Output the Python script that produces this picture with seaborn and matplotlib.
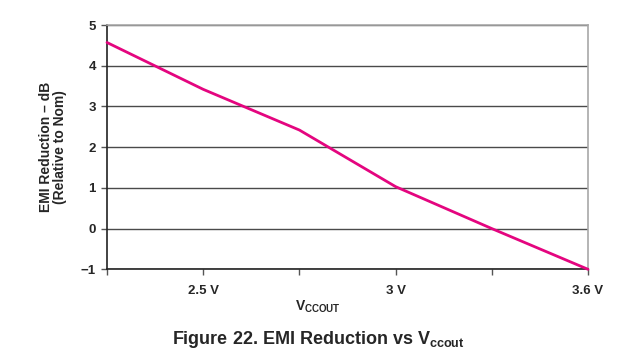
import numpy as np
import pandas as pd
import matplotlib
matplotlib.use("Agg")
import matplotlib.pyplot as plt
import seaborn as sns

# =========================
# Setup
# =========================
sns.set_theme(style="white")
plt.rcParams["font.family"] = ["Liberation Sans", "DejaVu Sans"]
plt.rcParams["font.weight"] = "bold"
plt.rcParams["mathtext.fontset"] = "custom"
plt.rcParams["mathtext.rm"] = "Liberation Sans:bold"
plt.rcParams["mathtext.it"] = "Liberation Sans:bold"
plt.rcParams["mathtext.bf"] = "Liberation Sans:bold"

# =========================
# Data
# =========================
vcc_out = [2.25, 2.5, 2.75, 3.0, 3.3, 3.6]
emi_reduction = [4.57, 3.42, 2.42, 1.03, 0.0, -1.0]
x_tick_labels = ["", "2.5 V", "", "3 V", "", "3.6 V"]
y_ticks = [-1, 0, 1, 2, 3, 4, 5]

df = pd.DataFrame({"pos": np.arange(len(vcc_out)), "emi": emi_reduction})

# =========================
# Figure
# =========================
fig = plt.figure(figsize=(6.36, 3.62), dpi=100)
ax = fig.add_axes([107 / 636, 1 - 269.3 / 362, (588 - 107) / 636, (269.3 - 25) / 362])

sns.lineplot(data=df, x="pos", y="emi", ax=ax, color="#E4057F",
             linewidth=2.0, clip_on=False, zorder=3)

ax.set_xlim(0, len(vcc_out) - 1)
ax.set_ylim(-1, 5)
ax.set_xticks(df["pos"])
ax.set_xticklabels(x_tick_labels)
ax.set_yticks(y_ticks)
ax.set_yticklabels([str(v).replace("-", "\u2212") for v in y_ticks])

ax.tick_params(axis="both", which="major", direction="out", length=4,
               width=1, color="#555555", labelsize=9.5, pad=4,
               bottom=True, left=True)
ax.tick_params(axis="x", pad=7)
for lbl in ax.get_xticklabels() + ax.get_yticklabels():
    lbl.set_fontweight("bold")

# Horizontal grid only
ax.yaxis.grid(True, color="#4a4a4a", linewidth=1.0)
ax.xaxis.grid(False)

for side in ["left", "bottom"]:
    ax.spines[side].set_color("#222222")
    ax.spines[side].set_linewidth(1.2)
for side in ["top", "right"]:
    ax.spines[side].set_color("#a8a8a8")
    ax.spines[side].set_linewidth(1.2)

ax.set_xlabel("")
ax.set_ylabel("EMI Reduction \u2013 dB\n(Relative to Nom)", fontsize=10,
              fontweight="bold", labelpad=10, linespacing=1.0)

# Axis label and caption
fig.text(318 / 636, 1 - 307 / 362, r"V$_{\mathrm{CCOUT}}$", ha="center",
         va="center", fontsize=10, fontweight="bold")
fig.text(318 / 636, 1 - 340 / 362, r"Figure 22. EMI Reduction vs V$_{\mathrm{ccout}}$",
         ha="center", va="center", fontsize=13, fontweight="bold")

# =========================
# Save
# =========================
fig.savefig("out.png", dpi=100)
plt.close(fig)
